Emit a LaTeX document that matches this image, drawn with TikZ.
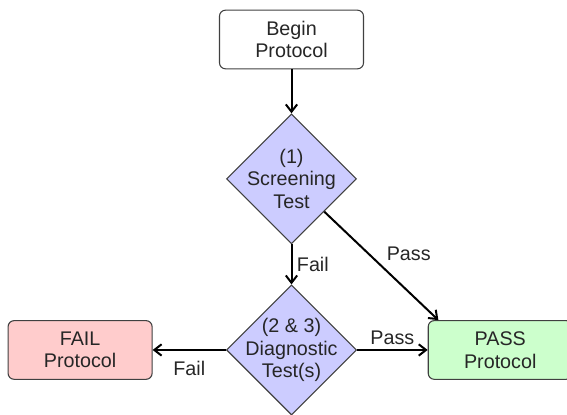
\documentclass[tikz,border=0pt]{standalone}
\usepackage{fontspec}
\setmainfont{Liberation Sans}
\usepackage{xcolor}
\usepackage{tikz}
\usetikzlibrary{arrows.meta,positioning,shapes.geometric}

\definecolor{decfill}{HTML}{CCCCFF}
\definecolor{failfill}{HTML}{FFCCCC}
\definecolor{passfill}{HTML}{CCFFCC}
\definecolor{edge}{HTML}{404040}

\begin{document}
\begin{tikzpicture}[
x=0.75pt, y=-0.75pt,
font=\fontsize{14.8pt}{17pt}\selectfont,
term/.style={draw=edge, line width=0.8pt, rounded corners=4.5pt, minimum width=108pt, minimum height=44pt, align=center, text=black!85},
dec/.style={draw=edge, line width=0.8pt, diamond, aspect=1, minimum width=97.5pt, minimum height=97.5pt, inner sep=-6pt, align=center, fill=decfill, text=black!85},
arr/.style={-{Straight Barb[length=5.5pt,width=8.5pt]}, line width=1.5pt},
lbl/.style={text=black!85}
]
\useasboundingbox (0,0) rectangle (567,414);
\node[term] (begin) at (291.5,39.5) {Begin\\Protocol};
\node[dec, below=33pt of begin] (screen) {(1)\\Screening\\Test};
\node[dec, below=30pt of screen] (diag) {(2 \& 3)\\Diagnostic\\Test(s)};
\node[term, fill=failfill, left=55pt of diag] (fail) {FAIL\\Protocol};
\node[term, fill=passfill, right=53pt of diag] (pass) {PASS\\Protocol};

\draw[arr] (begin) -- (screen);
\draw[arr] (screen) -- node[lbl, right]{Fail} (diag);
\draw[arr] (screen.south east) -- node[lbl, pos=0.5, above right]{Pass} ([xshift=8pt]pass.north west);
\draw[arr] (diag) -- node[lbl, above]{Pass} (pass);
\draw[arr] (diag) -- node[lbl, below, yshift=-4pt]{Fail} (fail);
\end{tikzpicture}
\end{document}
